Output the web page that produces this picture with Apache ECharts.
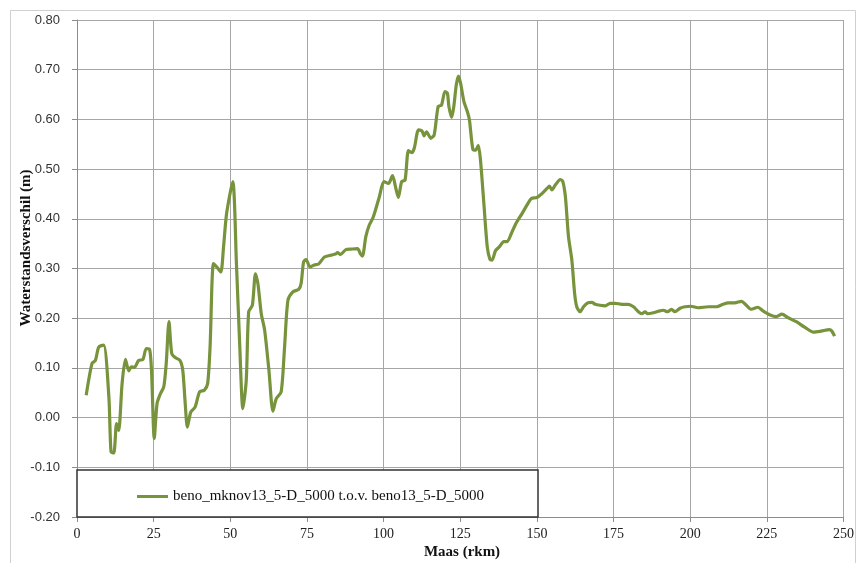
<!DOCTYPE html>
<html>
<head>
<meta charset="utf-8">
<script src="https://cdn.jsdelivr.net/npm/echarts@6/dist/echarts.min.js"></script>
<style>
html,body{margin:0;padding:0;background:#fff;}
#chart{width:857px;height:563px;}
</style>
</head>
<body>
<div id="chart"></div>
<script>
var seriesName = 'beno_mknov13_5-D_5000 t.o.v. beno13_5-D_5000';
var xTitle = 'Maas (rkm)';
var yTitle = 'Waterstandsverschil (m)';
var rkm = [3.0,4.9,6.0,7.1,8.7,10.4,11.1,12.0,12.9,13.6,14.7,15.8,16.9,17.7,18.7,20.1,21.5,22.6,23.7,24.3,25.2,26.1,27.2,28.3,29.1,30.0,30.9,32.0,33.6,34.5,35.3,36.0,37.1,38.5,40.0,41.5,42.6,43.4,44.5,45.6,46.9,47.8,48.8,50.8,
52.0,53.1,54.1,55.2,56.0,57.2,58.2,59.0,60.1,61.2,62.6,63.9,65.0,66.6,67.7,68.8,70.4,72.3,73.1,73.9,74.7,76.0,77.4,78.8,80.7,82.9,84.3,85.0,85.9,87.7,89.4,91.5,92.4,93.1,94.2,95.3,96.6,98.6,100.1,101.6,
102.9,104.0,104.8,105.9,107.0,108.1,109.2,110.0,111.4,112.5,113.2,114.0,115.4,116.5,117.8,118.9,120.0,120.8,121.3,122.2,122.9,123.7,124.4,125.1,126.2,127.3,128.0,129.1,130.0,130.9,131.6,132.7,133.8,134.7,135.4,136.5,137.8,139.2,140.3,141.7,143.2,145.2,146.8,148.2,150.0,
151.7,153.3,154.1,154.9,156.0,157.6,158.4,159.3,160.3,161.4,162.3,163.0,164.1,165.2,166.6,167.9,169.0,170.6,172.3,173.9,175.5,177.7,179.8,181.5,183.1,184.2,185.3,186.1,188.0,189.6,191.2,192.6,193.9,195.0,196.7,198.3,200.2,202.6,205.9,208.6,210.7,212.4,214.5,216.7,218.3,219.9,222.1,223.7,225.9,228.1,229.9,231.9,234.6,237.3,240.3,242.7,245.4,246.2,247.1];
var diff = [0.045,0.109,0.115,0.142,0.146,0.041,-0.069,-0.071,-0.012,-0.026,0.068,0.117,0.094,0.102,0.101,0.115,0.117,0.139,0.137,0.095,-0.042,0.028,0.048,0.062,0.109,0.193,0.129,0.121,0.115,0.095,0.028,-0.019,0.011,0.021,0.052,0.055,0.068,0.142,0.310,0.303,0.293,0.344,0.411,0.475,
0.310,0.142,0.018,0.075,0.213,0.226,0.289,0.270,0.209,0.176,0.095,0.013,0.038,0.052,0.142,0.236,0.253,0.258,0.270,0.313,0.318,0.303,0.307,0.309,0.323,0.327,0.329,0.332,0.328,0.338,0.339,0.340,0.330,0.325,0.364,0.387,0.403,0.444,0.475,0.471,
0.487,0.461,0.443,0.475,0.478,0.537,0.533,0.542,0.579,0.577,0.567,0.575,0.562,0.569,0.626,0.629,0.656,0.653,0.626,0.604,0.626,0.669,0.687,0.673,0.636,0.616,0.599,0.540,0.538,0.548,0.518,0.431,0.344,0.318,0.317,0.336,0.344,0.354,0.354,0.371,0.391,0.411,0.428,0.441,0.443,
0.451,0.461,0.466,0.458,0.468,0.479,0.476,0.444,0.364,0.317,0.250,0.223,0.213,0.223,0.231,0.232,0.228,0.226,0.225,0.230,0.230,0.228,0.228,0.223,0.213,0.209,0.213,0.209,0.211,0.214,0.216,0.213,0.218,0.213,0.220,0.223,0.224,0.221,0.223,0.223,0.228,0.231,0.231,0.234,0.226,0.218,0.222,0.215,0.207,0.203,0.208,0.201,0.193,0.182,0.172,0.174,0.177,0.174,0.164];

var points = rkm.map(function(k, i){ return [k, diff[i]]; });

var chart = echarts.init(document.getElementById('chart'), null, {renderer:'canvas'});
chart.setOption({
  animation:false,
  backgroundColor:'#ffffff',
  grid:{left:77, right:11, top:20, bottom:46, containLabel:false},
  xAxis:{
    type:'value', min:0, max:250, interval:25,
    axisLine:{show:true, onZero:false, lineStyle:{color:'#8c8c8c', width:1}},
    axisTick:{show:true, inside:false, length:5, lineStyle:{color:'#8c8c8c'}},
    axisLabel:{color:'#222', fontFamily:'Liberation Serif', fontSize:14, margin:10},
    splitLine:{show:true, lineStyle:{color:'#a6a6a6', width:1}}
  },
  yAxis:{
    type:'value', min:-0.2, max:0.8, interval:0.1,
    axisLine:{show:true, lineStyle:{color:'#8c8c8c', width:1}},
    axisTick:{show:true, length:5, lineStyle:{color:'#8c8c8c'}},
    axisLabel:{color:'#333', fontFamily:'Liberation Sans', fontSize:13, margin:17,
      formatter:function(v){ return v.toFixed(2); }},
    splitLine:{show:true, lineStyle:{color:'#a6a6a6', width:1}}
  },
  legend:{
    show:true, left:132, top:484, z:10,
    icon:'rect', itemWidth:31, itemHeight:3, itemGap:4,
    textStyle:{color:'#111', fontFamily:'Liberation Serif', fontSize:15},
    data:[seriesName]
  },
  graphic:[
    {type:'rect', z:-10, silent:true, shape:{x:10.5, y:10.5, width:845, height:570}, style:{fill:'none', stroke:'#d0d0d0', lineWidth:1}},
    {type:'rect', z:5, silent:true, shape:{x:77, y:470, width:461, height:47}, style:{fill:'#ffffff', stroke:'#333333', lineWidth:1.5}},
    {type:'text', z:5, silent:true, x:462, y:552, style:{text:xTitle, fill:'#111', font:'bold 15px "Liberation Serif"', align:'center', verticalAlign:'middle'}},
    {type:'text', z:5, silent:true, x:26, y:248, rotation:Math.PI/2, style:{text:yTitle, fill:'#111', font:'bold 15px "Liberation Serif"', align:'center', verticalAlign:'middle'}}
  ],
  series:[{
    name:seriesName, type:'line', data:points, smooth:0.25, showSymbol:false, symbol:'none',
    lineStyle:{color:'#77933C', width:3.2}, itemStyle:{color:'#77933C'}, z:3
  }]
});
</script>
</body>
</html>
